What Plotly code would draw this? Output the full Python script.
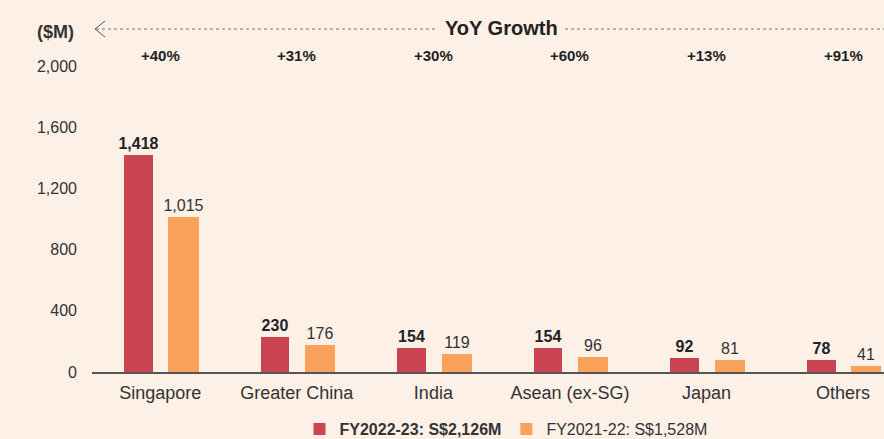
import plotly.graph_objects as go

# ---- data ----
regions = ["Singapore", "Greater China", "India", "Asean (ex-SG)", "Japan", "Others"]
fy23 = [1418, 230, 154, 154, 92, 78]
fy22 = [1015, 176, 119, 96, 81, 41]
yoy_growth = ["+40%", "+31%", "+30%", "+60%", "+13%", "+91%"]
y_ticks = [0, 400, 800, 1200, 1600, 2000]
y_ticktext = ["0", "400", "800", "1,200", "1,600", "2,000"]

W, H = 884, 439
ML, MR, MT, MB = 92, 0, 66, 67
BG = "#FDF0E7"
RED = "#C94450"
ORANGE = "#F9A25B"
FONT = "Liberation Sans, Arial, sans-serif"


def px_x(px):
    """pixel x -> paper x"""
    return (px - ML) / (W - ML - MR)


def px_y(py):
    """pixel y -> paper y"""
    return (H - MB - py) / (H - MT - MB)


def label(x, y, text, size, color="#222222", xref="paper"):
    fig.add_annotation(
        x=x, y=y, xref=xref, yref="paper",
        xanchor="center", yanchor="middle",
        text=text, showarrow=False,
        font=dict(size=size, color=color, family=FONT),
    )


fig = go.Figure()

fig.add_trace(go.Bar(
    x=regions, y=fy23,
    name="<b>FY2022-23: S$2,126M</b>",
    marker=dict(color=RED, line=dict(width=0)),
    offset=-0.265, width=0.21,
    text=fy23, texttemplate="<b>%{y:,}</b>",
    textposition="outside", constraintext="none",
    textfont=dict(size=16, color="#222222", family=FONT),
    cliponaxis=False,
))
fig.add_trace(go.Bar(
    x=regions, y=fy22,
    name="FY2021-22: S$1,528M",
    marker=dict(color=ORANGE, line=dict(width=0)),
    offset=0.06, width=0.22,
    text=fy22, texttemplate="%{y:,}",
    textposition="outside", constraintext="none",
    textfont=dict(size=16, color="#333333", family=FONT),
    cliponaxis=False,
))

# YoY growth labels above each category
for reg, g in zip(regions, yoy_growth):
    label(reg, px_y(56), f"<b>{g}</b>", 15, xref="x")

# header: "YoY Growth" with dotted rule and arrow
label(px_x(501), px_y(28), "<b>YoY Growth</b>", 20)
rule = dict(color="#777777", width=1, dash="dot")
fig.add_shape(type="line", xref="paper", yref="paper",
              x0=px_x(96), x1=px_x(437), y0=px_y(29), y1=px_y(29), line=rule)
fig.add_shape(type="line", xref="paper", yref="paper",
              x0=px_x(565), x1=px_x(884), y0=px_y(29), y1=px_y(29), line=rule)
fig.add_shape(
    type="path", xref="paper", yref="paper",
    path=(f"M {px_x(105)},{px_y(21)} L {px_x(95)},{px_y(29)} "
          f"L {px_x(105)},{px_y(37)}"),
    line=dict(color="#555555", width=1),
)

# unit label
label(px_x(55), px_y(32), "<b>($M)</b>", 18, color="#333333")

fig.update_layout(
    width=W, height=H,
    margin=dict(l=ML, r=MR, t=MT, b=MB, pad=0, autoexpand=False),
    paper_bgcolor=BG, plot_bgcolor=BG,
    barmode="overlay",
    bargap=0,
    font=dict(family=FONT, color="#333333"),
    showlegend=True,
    legend=dict(
        orientation="h",
        x=px_x(506), xanchor="center",
        y=px_y(429), yanchor="middle",
        font=dict(size=16, color="#333333", family=FONT),
        bgcolor="rgba(0,0,0,0)",
        itemclick=False,
    ),
    xaxis=dict(
        range=[-0.5, 5.3],
        showgrid=False, zeroline=False,
        showline=True, linecolor="#555555", linewidth=1.5,
        ticks="", tickfont=dict(size=18, color="#333333"),
        ticklabelstandoff=4,
    ),
    yaxis=dict(
        range=[0, 2000],
        showgrid=False, zeroline=False, showline=False,
        tickvals=y_ticks, ticktext=y_ticktext,
        tickfont=dict(size=16, color="#333333"),
        ticklabelstandoff=14,
    ),
)

fig.write_html(
    "out.html",
    config={"displayModeBar": False},
    post_script="document.body.style.margin='0';",
)
